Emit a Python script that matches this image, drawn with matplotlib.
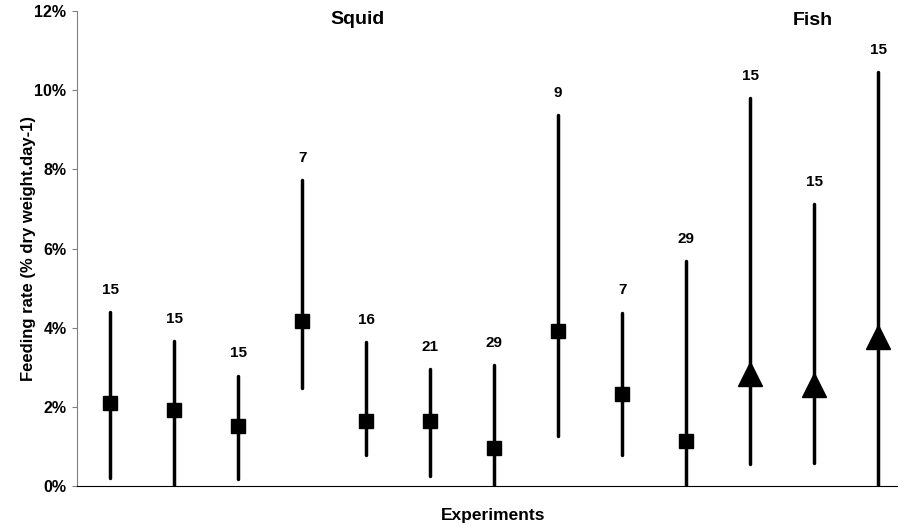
import numpy as np
import matplotlib.pyplot as plt
from matplotlib.ticker import FuncFormatter

plt.rcParams['font.family'] = ['Liberation Sans', 'DejaVu Sans']
plt.rcParams['font.weight'] = 'bold'

# feeding rate in % dry weight per day
mean_rate = [2.10, 1.92, 1.52, 4.17, 1.65, 1.65, 0.96, 3.92, 2.32, 1.14, 2.84, 2.54, 3.76]
high_rate = [4.39, 3.66, 2.79, 7.73, 3.63, 2.95, 3.06, 9.37, 4.38, 5.68, 9.81, 7.12, 10.45]
low_rate = [0.21, 0.0, 0.17, 2.47, 0.78, 0.26, 0.0, 1.26, 0.78, 0.0, 0.56, 0.57, 0.0]
n_obs = [15, 15, 15, 7, 16, 21, 29, 9, 7, 29, 15, 15, 15]
food = ['Squid'] * 10 + ['Fish'] * 3

x = np.arange(len(mean_rate))
mean = np.array(mean_rate) / 100
high = np.array(high_rate) / 100
low = np.array(low_rate) / 100

fig = plt.figure(figsize=(8.98, 5.28), dpi=100)
ax = fig.add_axes([0.0857, 0.0795, 0.9143, 0.8995])

ax.vlines(x, low, high, color='black', lw=2.5, capstyle='round', zorder=2)
for xi, m, f in zip(x, mean, food):
    if f == 'Squid':
        ax.plot(xi, m, marker='s', ms=9.5, color='black', zorder=3)
    else:
        ax.plot(xi, m, marker='^', ms=17, color='black', zorder=3)

for xi, h, n in zip(x, high, n_obs):
    ax.annotate(str(n), (xi, h), xytext=(0, 16), textcoords='offset points',
                ha='center', va='center', fontsize=11, fontweight='bold')

ax.text(3.86, 0.1179, 'Squid', ha='center', va='center', fontsize=14, fontweight='bold')
ax.text(10.98, 0.1177, 'Fish', ha='center', va='center', fontsize=14, fontweight='bold')

ax.set_xlim(-0.52, 12.31)
ax.set_ylim(0, 0.12)
ax.set_yticks(np.arange(0, 0.121, 0.02))
ax.yaxis.set_major_formatter(FuncFormatter(lambda v, p: '{:.0f}%'.format(v * 100)))
ax.set_xticks([])
ax.tick_params(axis='y', direction='out', length=3.6, color='#808080', labelsize=11.5, pad=4)

for side in ['top', 'right']:
    ax.spines[side].set_visible(False)
ax.spines['left'].set_color('#808080')
ax.spines['bottom'].set_color('black')

ax.set_ylabel('Feeding rate (% dry weight.day-1)', fontsize=12, fontweight='bold')
ax.yaxis.set_label_coords(-0.050, 0.5)
ax.set_xlabel('Experiments', fontsize=12.5, fontweight='bold')
ax.xaxis.set_label_coords(0.507, -0.046)

fig.savefig('out.png', dpi=100)
